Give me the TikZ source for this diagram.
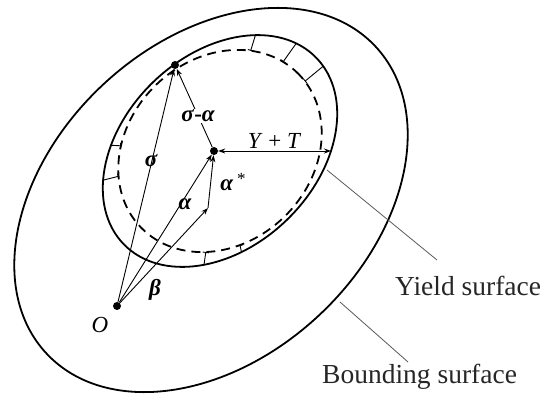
\documentclass[tikz,border=0pt]{standalone}
\usepackage{fontspec}
\setmainfont{Liberation Serif}
\usetikzlibrary{arrows.meta}

\newcommand{\bgr}[1]{{\bfseries\itshape #1}}

\begin{document}
\begin{tikzpicture}[x=1pt,y=1pt,
  surf/.style={line width=1.8pt},
  dsurf/.style={line width=1.8pt, dash pattern=on 9pt off 6pt},
  vec/.style={line width=0.9pt, -{Stealth[length=7pt,width=5pt]}},
  vecboth/.style={line width=0.9pt, {Stealth[length=7pt,width=5pt]}-{Stealth[length=7pt,width=5pt]}},
  dotnode/.style={circle, fill=black, inner sep=0pt, minimum size=8pt},
  tickmark/.style={line width=0.9pt, {Bar[width=6pt,line width=0.9pt]}-},
  leader/.style={line width=0.8pt, black!65},
  lab/.style={font=\fontsize{23}{26}\selectfont, inner sep=1pt},
  big/.style={font=\fontsize{27.5}{30}\selectfont, inner sep=0pt, text=black!85}
]
\useasboundingbox (0,0) rectangle (551,394);

% bounding surface
\begin{scope}[shift={(211,194)}, rotate=43]
  \draw[surf] (0,0) ellipse [x radius=225pt, y radius=158pt];
\end{scope}

% yield surface (solid), dashed surface and ticks
\begin{scope}[shift={(220,243)}, rotate=44]
  \draw[surf] (0,0) ellipse [x radius=134pt, y radius=96pt];
  \draw[dsurf] (0,0) ellipse [x radius=110pt, y radius=92pt];
  \foreach \p/\ri/\ro in {29/104.8/121.1, 10.7/109.2/131.9, -4.6/109.8/133.6,
                          133/99.2/109.1, 150/104.5/120.5, 218/102.0/114.9, 238/96.1/103.3}
    \draw[tickmark] (\p:\ri) -- (\p:\ro);
\end{scope}

% points
\node[dotnode] (O) at (117,88) {};
\node[dotnode] (S) at (175,329) {};
\node[dotnode] (C) at (214,243) {};
\coordinate (B) at (208,186);
\coordinate (R) at (331,243);

% vectors
\draw[vec] (O) -- (S);
\draw[vec] (O) -- (C);
\draw[vec] (O) -- (B);
\draw[vec] (B) -- (C);
\draw[vec] (C) -- node[lab, fill=white, pos=0.4] (lsa) {\bgr{σ}\textbf{-}\bgr{α}} (S);
\draw[vecboth] (C) -- node[lab, above=1pt] (lyt) {\textit{Y} + \textit{T}} (R);

% labels
\node[lab] (lsig) at (151,233) {\bgr{σ}};
\node[lab] (lalp) at (185,190) {\bgr{α}};
\node[lab] (lalps) at (233,212) {\bgr{α}\,\raisebox{6pt}{\fontsize{17}{18}\selectfont *}};
\node[lab] (lbet) at (155,104) {\bgr{β}};
\node[lab] (lO) at (100,69) {\textit{O}};

% leaders and surface names
\coordinate (yl1) at (327,224);
\coordinate (yl2) at (437,134);
\node[big, anchor=base west] (ylab) at (395,99) {Yield surface};
\draw[leader] (yl1) -- (yl2);

\coordinate (bl1) at (340,92);
\coordinate (bl2) at (408,32);
\node[big, anchor=base west] (blab) at (322,11) {Bounding surface};
\draw[leader] (bl1) -- (bl2);
\end{tikzpicture}
\end{document}
